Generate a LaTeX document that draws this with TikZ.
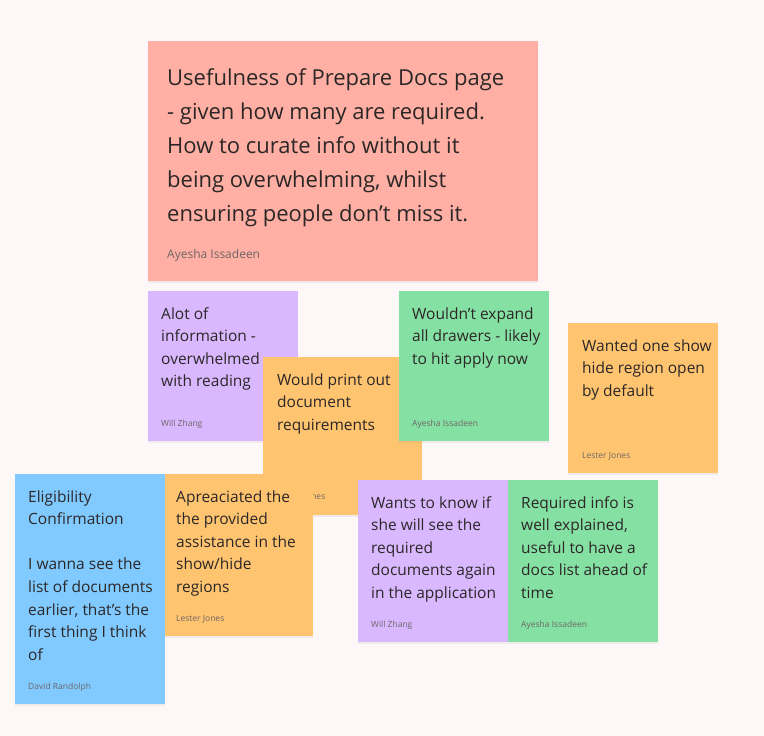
\documentclass[tikz,border=0pt]{standalone}
\usepackage{fontspec}
\setmainfont{Open Sans}
\usepackage{xcolor}
\usepackage{tikz}
\usetikzlibrary{positioning,shadows}
\definecolor{stickyred}{HTML}{FFAFA3}
\definecolor{stickyviolet}{HTML}{D9B8FF}
\definecolor{stickyorange}{HTML}{FFC470}
\definecolor{stickygreen}{HTML}{85E0A3}
\definecolor{stickyblue}{HTML}{80CAFF}
\definecolor{boardbg}{HTML}{FDF8F7}
\definecolor{inkdark}{HTML}{2C2727}
\definecolor{inkgrey}{HTML}{6E6666}

\begin{document}
\begin{tikzpicture}[
    x=1pt, y=-1pt,
    sticky/.style={rectangle, anchor=north west, inner sep=0pt, minimum width=150pt, minimum height=150pt, drop shadow={shadow xshift=0pt, shadow yshift=-2pt, opacity=0.10}},
    note/.style={anchor=north west, inner sep=0pt, align=left, text=inkdark, font=\fontsize{15.5}{22.6}\selectfont},
    bignote/.style={note, font=\fontsize{22}{34}\selectfont},
    author/.style={anchor=base west, inner sep=0pt, text=inkgrey, font=\fontsize{8.5}{10}\selectfont},
    bigauthor/.style={author, font=\fontsize{12}{14}\selectfont}
]
    % Board
    \path[use as bounding box, fill=boardbg] (0,0) rectangle (764,736);

    % Stickies
    \node (big) [sticky, fill=stickyred, minimum width=390pt, minimum height=240pt] at (148,41) {};
    \node (bigtxt) [bignote, below right=20pt and 19pt of big.north west] {\strut Usefulness of Prepare Docs page\\- given how many are required.\\How to curate info without it\\being overwhelming, whilst\\ensuring people don’t miss it.};
    \node (bigby) [above right=23pt and 19pt of big.south west, bigauthor] {Ayesha Issadeen};

    \node (alot) [sticky, fill=stickyviolet] at (148,291) {};
    \node (alottxt) [note, below right=12pt and 13pt of alot.north west] {\strut Alot of\\information -\\overwhelmed\\with reading};
    \node (alotby) [above right=15pt and 13pt of alot.south west, author] {Will Zhang};

    \node (print) [sticky, fill=stickyorange, minimum width=159pt, minimum height=158pt] at (263,357) {};
    \node (printtxt) [note, below right=12pt and 14pt of print.north west] {\strut Would print out\\document\\requirements};
    \node (printby) [above right=16pt and 14pt of print.south west, author] {Lester Jones};

    \node (drawers) [sticky, fill=stickygreen] at (399,291) {};
    \node (drawerstxt) [note, below right=12pt and 13pt of drawers.north west] {\strut Wouldn’t expand\\all drawers - likely\\to hit apply now};
    \node (drawersby) [above right=15pt and 13pt of drawers.south west, author] {Ayesha Issadeen};

    \node (showhide) [sticky, fill=stickyorange] at (568,323) {};
    \node (showhidetxt) [note, below right=12pt and 14pt of showhide.north west] {\strut Wanted one show\\hide region open\\by default};
    \node (showhideby) [above right=15pt and 14pt of showhide.south west, author] {Lester Jones};

    \node (assist) [sticky, fill=stickyorange, minimum height=162pt] at (163,474) {};
    \node (assisttxt) [note, below right=12pt and 13pt of assist.north west] {\strut Apreaciated the\\the provided\\assistance in the\\show/hide\\regions};
    \node (assistby) [above right=15pt and 13pt of assist.south west, author] {Lester Jones};

    \node (elig) [sticky, fill=stickyblue, minimum height=230pt] at (15,474) {};
    \node (eligtxt) [note, below right=12pt and 13pt of elig.north west] {\strut Eligibility\\Confirmation\\[22.6pt]I wanna see the\\list of documents\\earlier, that’s the\\first thing I think\\of};
    \node (eligby) [above right=15pt and 13pt of elig.south west, author] {David Randolph};

    \node (again) [sticky, fill=stickyviolet, minimum height=162pt] at (358,480) {};
    \node (againtxt) [note, below right=12pt and 13pt of again.north west] {\strut Wants to know if\\she will see the\\required\\documents again\\in the application};
    \node (againby) [above right=15pt and 13pt of again.south west, author] {Will Zhang};

    \node (explained) [sticky, fill=stickygreen, minimum height=162pt] at (508,480) {};
    \node (explainedtxt) [note, below right=12pt and 13pt of explained.north west] {\strut Required info is\\well explained,\\useful to have a\\docs list ahead of\\time};
    \node (explainedby) [above right=15pt and 13pt of explained.south west, author] {Ayesha Issadeen};
\end{tikzpicture}
\end{document}
